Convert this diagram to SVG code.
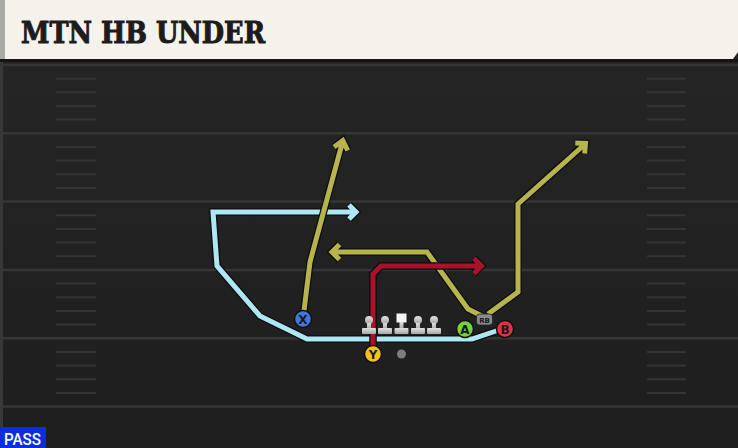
<svg xmlns="http://www.w3.org/2000/svg" width="738" height="448" viewBox="0 0 738 448">
<defs>
<linearGradient id="fieldg" x1="0" y1="0" x2="0" y2="1">
<stop offset="0" stop-color="#262626"/>
<stop offset="1" stop-color="#1e1e1e"/>
</linearGradient>
<linearGradient id="olg" x1="0" y1="0" x2="0" y2="1">
<stop offset="0" stop-color="#e0e0e0"/>
<stop offset="1" stop-color="#a8a8a8"/>
</linearGradient>
<style>
.yl{stroke:#363636;stroke-width:2.5;fill:none}
.hm{stroke:#343434;stroke-width:2;fill:none}
.out{fill:none;stroke:#0c0c0c;stroke-width:7.5;stroke-linejoin:miter;stroke-linecap:butt}
.rt{fill:none;stroke-width:5;stroke-linejoin:miter;stroke-linecap:butt}
.blue{stroke:#aee6f4}
.olive{stroke:#b6b44c}
.red{stroke:#a9122d}
.pl{stroke:#111;stroke-width:1.5}
.lbl{font-family:"DejaVu Sans","Liberation Sans",sans-serif;font-weight:bold;font-size:12px;fill:#1a1a1a;text-anchor:middle}
.ol{fill:url(#olg)}
</style>
</defs>
<rect x="0" y="0" width="738" height="448" fill="url(#fieldg)"/>
<rect x="0" y="60" width="3" height="388" fill="#383838"/>
<g id="field-lines">
<line class="yl" x1="0" y1="65" x2="738" y2="65"/>
<line class="yl" x1="0" y1="133.3" x2="738" y2="133.3"/>
<line class="yl" x1="0" y1="201.6" x2="738" y2="201.6"/>
<line class="yl" x1="0" y1="270" x2="738" y2="270"/>
<line class="yl" x1="0" y1="338.3" x2="738" y2="338.3"/>
<line class="yl" x1="0" y1="406.6" x2="738" y2="406.6"/>
<path class="hm" d="M56 78.7H96M56 92.3H96M56 106H96M56 119.6H96M56 147H96M56 160.6H96M56 174.3H96M56 188H96M56 215.3H96M56 229H96M56 242.6H96M56 256.3H96M56 283.6H96M56 297.3H96M56 311H96M56 324.6H96M56 352H96M56 365.6H96M56 379.3H96M56 393H96"/>
<path class="hm" d="M647 78.7H686M647 92.3H686M647 106H686M647 119.6H686M647 147H686M647 160.6H686M647 174.3H686M647 188H686M647 215.3H686M647 229H686M647 242.6H686M647 256.3H686M647 283.6H686M647 297.3H686M647 311H686M647 324.6H686M647 352H686M647 365.6H686M647 379.3H686M647 393H686"/>
</g>
<g id="header">
<rect x="0" y="59" width="738" height="3" fill="#151515"/>
<path d="M0 0H738V52L733 59H0Z" fill="#f5f2eb"/>
<rect x="0" y="0" width="5" height="59" fill="#a9a9a5"/>
<text x="21" y="43" font-family="'DejaVu Serif','Liberation Serif',serif" font-weight="bold" font-size="29" fill="#1c1c1c" stroke="#1c1c1c" stroke-width="1" textLength="244" lengthAdjust="spacingAndGlyphs">MTN HB UNDER</text>
</g>
<g id="connectors">
<g id="route-b">
<path class="out" d="M505 328L472 339H307L260 316L217 266L213 212H354M349 205L356 212L349 219"/>
<path class="rt blue" d="M505 328L472 339H307L260 316L217 266L213 212H354M349 205L356 212L349 219"/>
</g>
<g id="route-x">
<path class="out" d="M303 319L310 262L342.5 142M334.1 146.9L342.8 140.5L347.7 150.5"/>
<path class="rt olive" d="M303 319L310 262L342.5 142M334.1 146.9L342.8 140.5L347.7 150.5"/>
</g>
<g id="route-hb-under">
<path class="out" d="M482 316L468 309L427 252H333M339.5 244.5L332 252L339.5 259.5"/>
<path class="rt olive" d="M482 316L468 309L427 252H333M339.5 244.5L332 252L339.5 259.5"/>
</g>
<g id="route-hb-wheel">
<path class="out" d="M488 314L518 292V204L584 145M575.3 143.1L585.5 143.5L584.7 153.5"/>
<path class="rt olive" d="M488 314L518 292V204L584 145M575.3 143.1L585.5 143.5L584.7 153.5"/>
</g>
<g id="route-y">
<path class="out" d="M373 350V274L381 266H479M474 258.5L481.5 266L474 273.5"/>
<path class="rt red" d="M373 350V274L381 266H479M474 258.5L481.5 266L474 273.5"/>
</g>
</g>
<g id="ol-lt">
<circle class="ol" cx="369" cy="320" r="4"/><rect class="ol" x="367" y="323" width="4" height="6"/><rect class="ol" x="362" y="328" width="14" height="6" rx="1"/>
</g>
<g id="ol-lg">
<circle class="ol" cx="385" cy="320" r="4"/><rect class="ol" x="383" y="323" width="4" height="6"/><rect class="ol" x="378" y="328" width="14" height="6" rx="1"/>
</g>
<g id="ol-c">
<rect x="396.5" y="313.5" width="10" height="9" fill="#f4f4f4"/><rect class="ol" x="399.5" y="322" width="4" height="7"/><rect class="ol" x="394.5" y="328" width="14" height="6" rx="1"/>
</g>
<g id="ol-rg">
<circle class="ol" cx="418" cy="320" r="4"/><rect class="ol" x="416" y="323" width="4" height="6"/><rect class="ol" x="411" y="328" width="14" height="6" rx="1"/>
</g>
<g id="ol-rt">
<circle class="ol" cx="434" cy="320" r="4"/><rect class="ol" x="432" y="323" width="4" height="6"/><rect class="ol" x="427" y="328" width="14" height="6" rx="1"/>
</g>
<g id="qb">
<circle cx="401.5" cy="354" r="4.5" fill="#7d7d7d"/>
</g>
<g id="player-x">
<circle class="pl" cx="303" cy="319" r="8.5" fill="#3f78d8"/>
<text class="lbl" x="303" y="323.5">X</text>
</g>
<g id="player-y">
<circle class="pl" cx="373" cy="354" r="8.5" fill="#f2c21a"/>
<text class="lbl" x="373" y="358.5">Y</text>
</g>
<g id="player-a">
<circle class="pl" cx="465" cy="329" r="8.5" fill="#72d13c"/>
<text class="lbl" x="465" y="333.5">A</text>
</g>
<g id="rb-tag">
<rect x="476.5" y="314" width="16" height="11" rx="3" fill="#8a8a8a" stroke="#222" stroke-width="0.8"/>
<text x="484.5" y="322.5" font-family="'DejaVu Sans','Liberation Sans',sans-serif" font-weight="bold" font-size="7" fill="#1a1a1a" text-anchor="middle">RB</text>
</g>
<g id="player-b">
<circle class="pl" cx="505" cy="329" r="8.5" fill="#e33343"/>
<text class="lbl" x="505" y="333.5">B</text>
</g>
<g id="pass-badge">
<rect x="0" y="427" width="46" height="21" fill="#0c2ce0"/>
<text x="4" y="445" font-family="Roboto,'Liberation Sans',sans-serif" font-weight="500" font-size="17" fill="#ffffff" textLength="37" lengthAdjust="spacingAndGlyphs">PASS</text>
</g>
</svg>
